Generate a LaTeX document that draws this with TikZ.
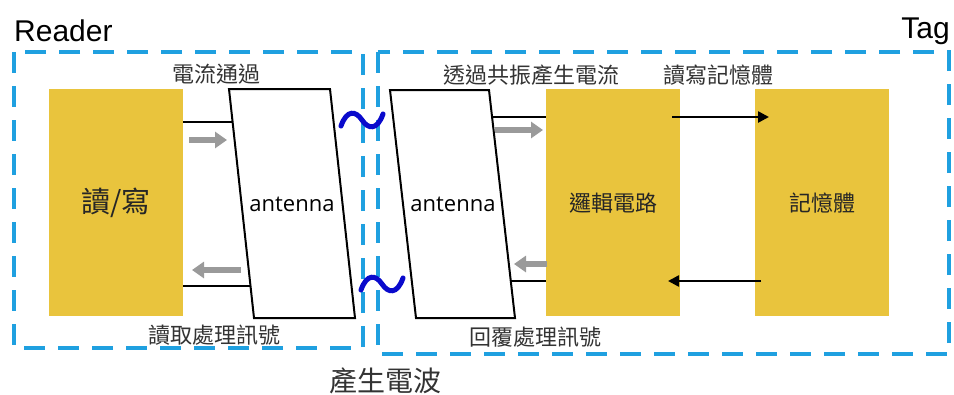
\documentclass[tikz,border=0pt]{standalone}
\usepackage{fontspec}
\setmainfont{Noto Sans CJK TC}
\newfontfamily\latinfont{Liberation Sans}
\newfontfamily\antfont{Open Sans}
\usetikzlibrary{arrows.meta,calc}
\definecolor{boxyellow}{HTML}{E9C43D}
\definecolor{dashblue}{HTML}{1FA0E0}
\definecolor{waveblue}{HTML}{0A0ACC}
\definecolor{arrowgray}{HTML}{9A9A9A}
\definecolor{txtgray}{HTML}{333333}
\begin{document}
\begin{tikzpicture}[x=1pt,y=-1pt,
  region/.style={draw=dashblue, line width=4.5pt, dash pattern=on 21pt off 13pt},
  block/.style={fill=boxyellow, minimum width=134pt, minimum height=227pt, inner sep=0pt, anchor=north west, text=black!85},
  ant/.style={draw=black, line width=2pt, fill=white, line join=miter},
  wire/.style={draw=black, line width=2pt},
  grayarrow/.style={draw=arrowgray, line width=5.5pt, -{Triangle[width=16pt,length=12pt]}},
  blackarrow/.style={draw=black, line width=2.5pt, -{Triangle[width=11pt,length=11pt]}},
  wave/.style={draw=waveblue, line width=5pt, line cap=round},
  lbl/.style={font=\fontsize{22}{24}\selectfont, text=txtgray, inner sep=0pt},
  title/.style={font=\latinfont\fontsize{30}{32}\selectfont, text=black, inner sep=0pt},
  tilde/.pic={\draw[wave] (-21,6) .. controls (-15,-11) and (-6,-9) .. (0,0) .. controls (6,9) and (15,11) .. (21,-6);}
]
\useasboundingbox (0,0) rectangle (954,394);

% regions
\draw[region] (14,52) rectangle (363,348);
\draw[region] (378,52) rectangle (949,354);
\node[title, anchor=base west] (reader) at (14,41) {Reader};
\node[title, anchor=base east] (tag) at (950,38) {Tag};

% blocks
\node[block, font=\fontsize{29}{31}\selectfont] (rw) at (49,89) {讀/寫};
\node[block, font=\fontsize{22}{24}\selectfont] (logic) at (546,89) {邏輯電路};
\node[block, font=\fontsize{22}{24}\selectfont] (mem) at (755,89) {記憶體};

% antennas
\draw[ant] (229,89) coordinate (a1tl) -- (330,89) coordinate (a1tr)
  -- (355,318) coordinate (a1br) -- (254,318) coordinate (a1bl) -- cycle;
\node[font=\antfont\fontsize{22}{24}\selectfont, inner sep=0pt] (ant1) at (292,204) {antenna};
\draw[ant] (390,90) coordinate (a2tl) -- (489,90) coordinate (a2tr)
  -- (515,318) coordinate (a2br) -- (416,318) coordinate (a2bl) -- cycle;
\node[font=\antfont\fontsize{22}{24}\selectfont, inner sep=0pt] (ant2) at (453,204) {antenna};

% connection points on antenna edges
\coordinate (a1in) at ($(a1tl)!0.144!(a1bl)$);
\coordinate (a1out) at ($(a1tl)!0.860!(a1bl)$);
\coordinate (a2in) at ($(a2tr)!0.118!(a2br)$);
\coordinate (a2out) at ($(a2tr)!0.838!(a2br)$);

% wires
\draw[wire] (rw.east |- a1in) -- (a1in);
\draw[wire] (rw.east |- a1out) -- (a1out);
\draw[wire] (a2in) -- (logic.west |- a2in);
\draw[wire] (a2out) -- (logic.west |- a2out);

% gray arrows
\coordinate (g1s) at (189,140); \coordinate (g1e) at (227,140);
\coordinate (g2s) at (241,270); \coordinate (g2e) at (192,270);
\coordinate (g3s) at (495,130); \coordinate (g3e) at (543,130);
\coordinate (g4s) at (547,264); \coordinate (g4e) at (514,264);
\draw[grayarrow] (g1s) -- (g1e);
\draw[grayarrow] (g2s) -- (g2e);
\draw[grayarrow] (g3s) -- (g3e);
\draw[grayarrow] (g4s) -- (g4e);

% logic <-> memory
\coordinate (m1s) at (672,117); \coordinate (m1e) at (769,117);
\coordinate (m2s) at (761,281); \coordinate (m2e) at (668,281);
\draw[blackarrow] (m1s) -- (m1e);
\draw[blackarrow] (m2s) -- (m2e);

% waves
\pic (w1) at (362,120) {tilde};
\pic (w2) at (382,284) {tilde};

% labels
\node[lbl] (l1) at (216,74) {電流通過};
\node[lbl] (l2) at (214,335) {讀取處理訊號};
\node[lbl] (l3) at (531,75) {透過共振產生電流};
\node[lbl] (l4) at (718,75) {讀寫記憶體};
\node[lbl] (l5) at (535,337) {回覆處理訊號};
\node[lbl, font=\fontsize{28}{30}\selectfont] (l6) at (385,381) {產生電波};
\end{tikzpicture}
\end{document}
